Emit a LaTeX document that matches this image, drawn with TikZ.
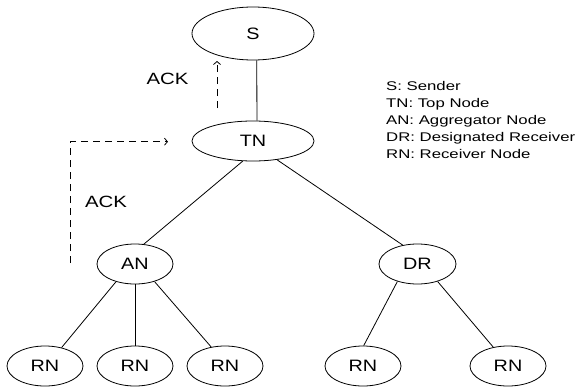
\documentclass[tikz,border=0pt]{standalone}
\usepackage{fontspec}
\setmainfont{Liberation Sans}
\usepackage{graphicx}
\usetikzlibrary{shapes.geometric,arrows.meta}
\newcommand{\stretchx}[2]{\scalebox{#1}[1]{#2}}
\begin{document}
\begin{tikzpicture}[x=1pt,y=-1pt,
  tnode/.style={ellipse, draw, line width=0.8pt, inner sep=0pt,
    minimum width=76pt, minimum height=40pt, font=\fontsize{16.5}{18}\selectfont},
  link/.style={line width=0.8pt},
  ackflow/.style={line width=0.8pt, dash pattern=on 7pt off 5pt,
    -{Straight Barb[length=3pt,width=7pt]}},
  lbl/.style={inner sep=0pt, font=\fontsize{16.3}{18}\selectfont},
  keytext/.style={inner sep=0pt, anchor=north west, font=\fontsize{12.6}{17}\selectfont}]
\useasboundingbox (0,0) rectangle (579,388);

% tree nodes
\node[tnode, minimum width=122pt, minimum height=53pt] (S) at (253,33.5) {\stretchx{1.2}{S}};
\node[tnode, minimum width=122pt] (TN) at (253,141) {\stretchx{1.2}{TN}};
\node[tnode] (AN) at (135,264) {\stretchx{1.2}{AN}};
\node[tnode, minimum width=77pt] (DR) at (417.5,264) {\stretchx{1.2}{DR}};
\node[tnode] (RN1) at (45,366) {\stretchx{1.2}{RN}};
\node[tnode] (RN2) at (135,366) {\stretchx{1.2}{RN}};
\node[tnode] (RN3) at (225,366) {\stretchx{1.2}{RN}};
\node[tnode] (RN4) at (363,366) {\stretchx{1.2}{RN}};
\node[tnode] (RN5) at (508,366) {\stretchx{1.2}{RN}};

% tree links
\draw[link] (S.278) -- (TN.79.5);
\draw[link] (TN.243) -- (AN.66);
\draw[link] (TN.322) -- (DR.128);
\draw[link] (AN.223) -- (RN1.48);
\draw[link] (AN.south) -- (RN2.north);
\draw[link] (AN.318) -- (RN3.126);
\draw[link] (DR.221) -- (RN4.88);
\draw[link] (DR.319) -- (RN5.128);

% acknowledgement flows
\coordinate (a1s) at (217,108);
\coordinate (a1e) at (217,61);
\draw[ackflow] (a1s) -- (a1e);
\coordinate (a2s) at (70.7,263);
\coordinate (a2c) at (70.7,141.7);
\coordinate (a2e) at (168,141.7);
\draw[ackflow] (a2s) -- (a2c) -- (a2e);
\node[lbl] (ack1) at (167.5,79) {\stretchx{1.25}{ACK}};
\node[lbl] (ack2) at (106,202) {\stretchx{1.25}{ACK}};

% legend
\node[keytext] (key) at (386,78.8) {\stretchx{1.33}{\begin{tabular}{@{}l@{}}
S: Sender\\
TN: Top Node\\
AN: Aggregator Node\\
DR: Designated Receiver\\
RN: Receiver Node
\end{tabular}}};
\end{tikzpicture}
\end{document}
